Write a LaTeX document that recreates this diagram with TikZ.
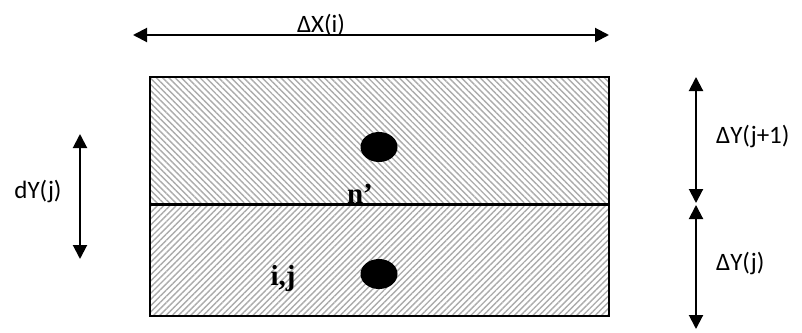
\documentclass[tikz,border=0pt]{standalone}
\usepackage{fontspec}
\setmainfont{Liberation Serif}
\newfontfamily\calib{Carlito}
\usetikzlibrary{arrows.meta, patterns.meta, shapes.geometric, positioning}

\begin{document}
\begin{tikzpicture}[
    x=1pt, y=-1pt,
    dimarrow/.style={{Triangle[length=14pt,width=14pt]}-{Triangle[length=14pt,width=14pt]}, line width=2pt},
    hatchbox/.style={pattern={Lines[angle=#1,distance=4.4pt,line width=1.4pt]}, pattern color=black!33},
    blob/.style={ellipse, fill=black, minimum width=37pt, minimum height=30pt, inner sep=0pt},
    dimlabel/.style={font=\calib\fontsize{25}{28}\selectfont, inner sep=0pt},
    celllabel/.style={font=\bfseries\fontsize{29}{32}\selectfont, inner sep=0pt}
]
\useasboundingbox (0,0) rectangle (802,332);

% Cellules
\path[hatchbox=-45] (150,77) rectangle (609,204);
\path[hatchbox=45] (150,204) rectangle (609,316);
\draw[line width=1.4pt] (150,77) rectangle (609,316);

\coordinate (mid-w) at (150,204);
\coordinate (mid-e) at (609,204);

% Noeuds
\node[blob] (upper) at (379,147) {};
\node[blob] (lower) at (379,274) {};
\node[celllabel, anchor=base] (nprime) at (360,203) {n’};
\node[celllabel, anchor=base] (ij) at (283,285) {i,j};

\draw[line width=3pt] (mid-w) -- (mid-e);

% Cotes
\coordinate (dx-w) at (133,35);
\coordinate (dx-e) at (609,35);
\draw[dimarrow] (dx-w) -- (dx-e);
\node[dimlabel, anchor=base] (dx) at (321,32) {ΔX(i)};

\coordinate (dy1-t) at (696,77);
\coordinate (dy1-b) at (696,203);
\draw[dimarrow] (dy1-t) -- (dy1-b);
\node[dimlabel, anchor=base west] (dy1) at (716,143) {ΔY(j+1)};

\coordinate (dy0-t) at (696,205);
\coordinate (dy0-b) at (696,329);
\draw[dimarrow] (dy0-t) -- (dy0-b);
\node[dimlabel, anchor=base west] (dy0) at (716,270) {ΔY(j)};

\coordinate (dyl-t) at (80,134);
\coordinate (dyl-b) at (80,259);
\draw[dimarrow] (dyl-t) -- (dyl-b);
\node[dimlabel, anchor=base] (dyl) at (38,198) {dY(j)};

\end{tikzpicture}
\end{document}
